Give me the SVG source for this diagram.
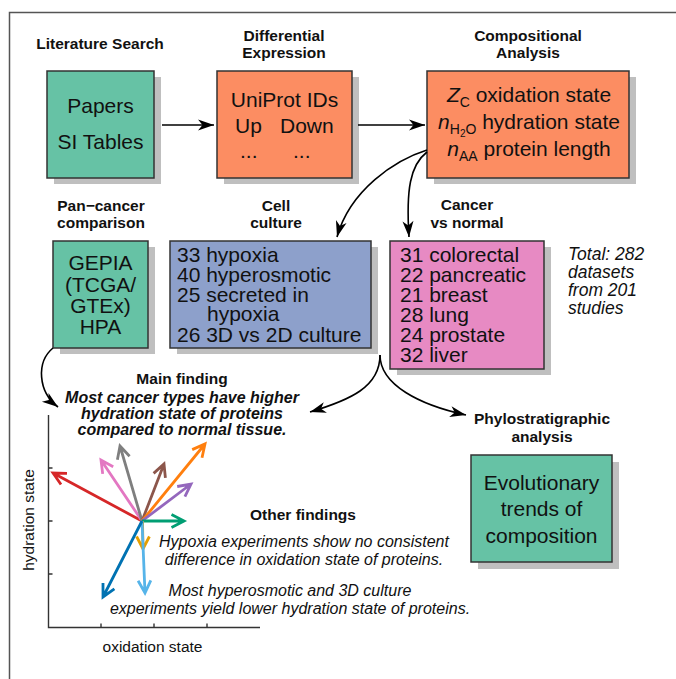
<svg xmlns="http://www.w3.org/2000/svg" width="676" height="679" viewBox="0 0 676 679">
<defs>
<style>
text{font-family:"Liberation Sans",Arial,Helvetica,sans-serif;fill:#111}
.box{stroke:#333;stroke-width:1.5}
.sh{fill:#bfbfbf}
.g{fill:#66c2a5}
.o{fill:#fc8d62}
.b{fill:#8da0cb}
.p{fill:#e78ac3}
.bt{font-size:21px}
.hd{font-size:15.5px;font-weight:bold;text-anchor:middle}
.mid{text-anchor:middle}
.it{font-style:italic}
.con{fill:none;stroke:#000;stroke-width:1.6;marker-end:url(#ah)}
.vec{fill:none;stroke-width:2.8;stroke-linejoin:miter}
.ax{fill:none;stroke:#333;stroke-width:1.4}
</style>
<marker id="ah" viewBox="-18 -7 19 14" refX="0" refY="0" markerWidth="19" markerHeight="14" markerUnits="userSpaceOnUse" orient="auto">
<path d="M0,0 L-16,-5.5 L-11.5,0 L-16,5.5 Z" fill="#000"/>
</marker>
</defs>
<rect width="676" height="679" fill="#fff"/>
<path d="M9.5,679 V12.5 H676" fill="none" stroke="#555" stroke-width="1.5"/>

<g id="papers">
<text class="hd" x="100" y="49">Literature Search</text>
<rect class="sh" x="54" y="77" width="107" height="107"/>
<rect class="box g" x="47" y="71" width="107" height="107"/>
<text class="bt mid" x="100.5" y="113">Papers</text>
<text class="bt mid" x="100.5" y="149">SI Tables</text>
</g>

<g id="uniprot">
<text class="hd" x="284" y="41">Differential<tspan x="284" dy="17">Expression</tspan></text>
<rect class="sh" x="224" y="77" width="135" height="107"/>
<rect class="box o" x="217" y="71" width="135" height="107"/>
<text class="bt mid" x="284.5" y="107">UniProt IDs</text>
<text class="bt" x="235" y="133">Up</text>
<text class="bt" x="280" y="133">Down</text>
<text class="bt" x="240" y="158">...</text>
<text class="bt" x="293" y="158">...</text>
</g>

<g id="compositional">
<text class="hd" x="528" y="41">Compositional<tspan x="528" dy="17">Analysis</tspan></text>
<rect class="sh" x="434" y="77" width="202" height="107"/>
<rect class="box o" x="427" y="71" width="202" height="107"/>
<text class="bt mid" x="529" y="102"><tspan class="it">Z</tspan><tspan font-size="14" dy="5">C</tspan><tspan dy="-5"> oxidation state</tspan></text>
<text class="bt mid" x="529" y="129"><tspan class="it">n</tspan><tspan font-size="14" dy="5">H</tspan><tspan font-size="10" dy="3">2</tspan><tspan font-size="14" dy="-3">O</tspan><tspan dy="-5"> hydration state</tspan></text>
<text class="bt mid" x="529" y="156"><tspan class="it">n</tspan><tspan font-size="14" dy="5">AA</tspan><tspan dy="-5"> protein length</tspan></text>
</g>

<g id="pancancer">
<text class="hd" x="101" y="211">Pan−cancer<tspan x="101" dy="17">comparison</tspan></text>
<rect class="sh" x="60" y="247" width="95" height="107"/>
<rect class="box g" x="53" y="241" width="95" height="107"/>
<text class="bt mid" x="100.5" y="270">GEPIA<tspan x="100.5" dy="22">(TCGA/</tspan><tspan x="100.5" dy="21">GTEx)</tspan><tspan x="100.5" dy="21">HPA</tspan></text>
</g>

<g id="cellculture">
<text class="hd" x="276" y="211">Cell<tspan x="276" dy="17">culture</tspan></text>
<rect class="sh" x="177" y="247" width="201" height="107"/>
<rect class="box b" x="170" y="241" width="201" height="107"/>
<text class="bt" x="177" y="262">33 hypoxia<tspan x="177" dy="20">40 hyperosmotic</tspan><tspan x="177" dy="20">25 secreted in</tspan><tspan x="207" dy="19">hypoxia</tspan><tspan x="177" dy="21">26 3D vs 2D culture</tspan></text>
</g>

<g id="cancer">
<text class="hd" x="467" y="210">Cancer<tspan x="467" dy="18">vs normal</tspan></text>
<rect class="sh" x="397" y="247" width="154" height="128"/>
<rect class="box p" x="390" y="241" width="154" height="128"/>
<text class="bt" x="400" y="262">31 colorectal<tspan x="400" dy="20">22 pancreatic</tspan><tspan x="400" dy="20">21 breast</tspan><tspan x="400" dy="20">28 lung</tspan><tspan x="400" dy="20">24 prostate</tspan><tspan x="400" dy="20">32 liver</tspan></text>
</g>

<g id="total">
<text class="it" font-size="17.5" x="568" y="260">Total: 282<tspan x="568" dy="18">datasets</tspan><tspan x="568" dy="18">from 201</tspan><tspan x="568" dy="18">studies</tspan></text>
</g>

<g id="mainfinding">
<text class="hd" x="182" y="384">Main finding</text>
<text class="mid it" font-size="16" font-weight="bold" x="182" y="403">Most cancer types have higher<tspan x="182" dy="16">hydration state of proteins</tspan><tspan x="182" dy="16">compared to normal tissue.</tspan></text>
</g>

<g id="phylo">
<text class="hd" x="542" y="424">Phylostratigraphic<tspan x="542" dy="18">analysis</tspan></text>
<rect class="sh" x="478" y="462" width="141" height="107"/>
<rect class="box g" x="471" y="455" width="141" height="107"/>
<text class="bt mid" x="541.5" y="490">Evolutionary<tspan x="541.5" dy="26">trends of</tspan><tspan x="541.5" dy="27">composition</tspan></text>
</g>

<g id="plot">
<path class="ax" d="M48.5,415 V627.5 H260"/>
<path class="ax" d="M48.5,468 h4 M48.5,521 h4 M48.5,574 h4 M101,627.5 v-4 M154,627.5 v-4 M207,627.5 v-4"/>
<text class="mid" font-size="15.5" transform="translate(34,520) rotate(-90)">hydration state</text>
<text class="mid" font-size="15.5" x="152.5" y="652">oxidation state</text>
<g id="vectors">
<path class="vec" stroke="#d62728" d="M142,521 L53,473 M61,484.5 L53,473 L67,473.3"/>
<path class="vec" stroke="#e377c2" d="M142,521 L101,460 M102.7,473.9 L101,460 L113.2,466.8"/>
<path class="vec" stroke="#7f7f7f" d="M142,521 L120,446 M117.4,459.7 L120,446 L129.6,456.2"/>
<path class="vec" stroke="#8c564b" d="M142,521 L164,464 M153.6,473.4 L164,464 L165.4,477.9"/>
<path class="vec" stroke="#ff7f0e" d="M142,521 L205,444 M192.2,449.6 L205,444 L202,457.7"/>
<path class="vec" stroke="#9467bd" d="M142,521 L191,484 M177.2,486.5 L191,484 L184.9,496.6"/>
<path class="vec" stroke="#009e73" d="M142,521 L184,521 M171.5,514.6 L184,521 L171.5,527.4"/>
<path class="vec" stroke="#e69f00" d="M142.5,521 L143,549 M136.6,536.5 L143,549 L149.4,536.5"/>
<path class="vec" stroke="#56b4e9" d="M142,521 L145,593 M138.1,580.8 L145,593 L150.8,580.3"/>
<path class="vec" stroke="#0072b2" d="M142,521 L103,597 M103,583 L103,597 L114.4,588.8"/>
</g>
</g>

<g id="otherfindings">
<text class="hd" x="303" y="520">Other findings</text>
<text class="mid it" font-size="16" x="304" y="547">Hypoxia experiments show no consistent<tspan x="304" dy="18">difference in oxidation state of proteins.</tspan></text>
<text class="mid it" font-size="16" x="290" y="596">Most hyperosmotic and 3D culture<tspan x="290" dy="18">experiments yield lower hydration state of proteins.</tspan></text>
</g>

<g id="connectors">
<path class="con" d="M162,125 H214"/>
<path class="con" d="M358,125 H425"/>
<path class="con" d="M427,150 C395,160 350,190 337,237"/>
<path class="con" d="M427,152 C410,165 406,190 409,237"/>
<path class="con" d="M53,348 C36,362 38,392 58,407"/>
<path class="con" d="M380,355 C380,387 350,400 310,412"/>
<path class="con" d="M380,355 C380,385 420,405 466,415"/>
</g>
</svg>
